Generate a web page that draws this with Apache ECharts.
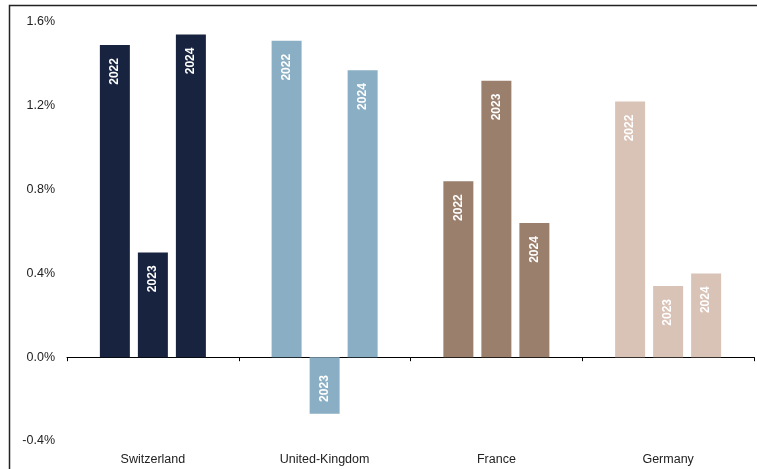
<!DOCTYPE html>
<html>
<head>
<meta charset="utf-8">
<script src="https://cdn.jsdelivr.net/npm/echarts@6/dist/echarts.min.js"></script>
<style>
  html, body { margin: 0; padding: 0; background: #ffffff; }
  #chart { width: 757px; height: 469px; }
</style>
</head>
<body>
<div id="chart"></div>
<script>
// Annual growth by country, one bar per year
const countries = ['Switzerland', 'United-Kingdom', 'France', 'Germany'];
const years = ['2022', '2023', '2024'];
const values2022 = [1.49, 1.51, 0.84, 1.22];
const values2023 = [0.50, -0.27, 1.32, 0.34];
const values2024 = [1.54, 1.37, 0.64, 0.40];
const yTicks = [-0.4, 0.0, 0.4, 0.8, 1.2, 1.6];

// Each country keeps its own colour across all three years
const countryColors = ['#18243f', '#8aafc4', '#9a7f6d', '#d9c2b6'];

const chart = echarts.init(document.getElementById('chart'), null, { renderer: 'canvas' });

function buildSeries(name, values, gapBefore) {
  return {
    name: name,
    type: 'bar',
    xAxisIndex: 0,
    barWidth: 30,
    barGap: '26.7%',
    data: values.map((v, i) => ({
      value: v,
      itemStyle: { color: countryColors[i] },
      label: {
        show: true,
        position: 'insideTop',
        distance: v < 0 ? 18 : 13,
        rotate: 90,
        align: 'right',
        verticalAlign: 'middle',
        formatter: name,
        color: '#ffffff',
        fontWeight: 'bold',
        fontSize: 12,
        fontFamily: 'Liberation Sans, Arial, sans-serif'
      }
    })),
    silent: true,
    animation: false
  };
}

chart.setOption({
  animation: false,
  grid: { left: 67, right: 3, top: 22, bottom: 28, containLabel: false },
  xAxis: [
    {
      type: 'category',
      data: countries,
      axisLine: { onZero: true, lineStyle: { color: '#000000', width: 1 } },
      axisTick: { show: true, length: 4, inside: false, lineStyle: { color: '#000000' } },
      axisLabel: { show: false },
      splitLine: { show: false }
    },
    {
      type: 'category',
      data: countries,
      position: 'bottom',
      axisLine: { show: false, onZero: false },
      axisTick: { show: false },
      axisLabel: {
        show: true,
        margin: 12,
        color: '#222222',
        fontSize: 12.5,
        fontFamily: 'Liberation Sans, Arial, sans-serif'
      },
      splitLine: { show: false }
    }
  ],
  yAxis: {
    type: 'value',
    min: yTicks[0],
    max: yTicks[yTicks.length - 1],
    interval: 0.4,
    axisLine: { show: false },
    axisTick: { show: false },
    splitLine: { show: false },
    axisLabel: {
      margin: 12,
      color: '#222222',
      fontSize: 12.5,
      fontFamily: 'Liberation Sans, Arial, sans-serif',
      formatter: v => v.toFixed(1) + '%'
    }
  },
  series: [
    buildSeries(years[0], values2022),
    buildSeries(years[1], values2023),
    buildSeries(years[2], values2024)
  ],
  graphic: [
    {
      type: 'polyline',
      shape: { points: [[9.5, 469], [9.5, 5.5], [757, 5.5]] },
      style: { stroke: '#222222', lineWidth: 1.5, fill: null },
      silent: true
    }
  ]
});
</script>
</body>
</html>
